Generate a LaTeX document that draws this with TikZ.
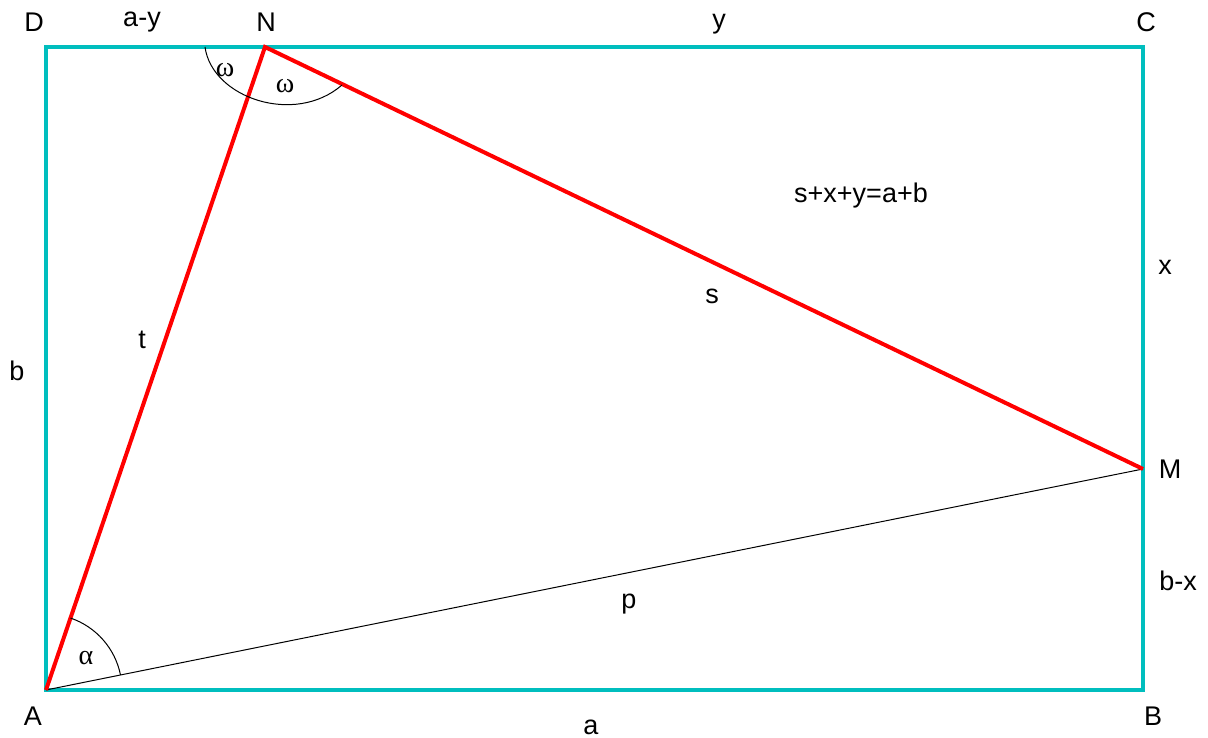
\documentclass[tikz,border=0pt]{standalone}
\usepackage{fontspec}
\usetikzlibrary{calc}
\setmainfont{Liberation Sans}
\newfontfamily\grk{Liberation Serif}
\definecolor{rectcyan}{RGB}{0,190,190}
\tikzset{
  lbl/.style={font=\fontsize{27}{30}\selectfont, inner sep=0pt},
  glbl/.style={font=\grk\fontsize{28}{30}\selectfont, inner sep=0pt},
  side/.style={draw=rectcyan, line width=4pt},
  redline/.style={draw=red, line width=4pt},
  thin/.style={draw=black, line width=1pt}
}
\begin{document}
\begin{tikzpicture}[x=1pt,y=1pt]
\useasboundingbox (0,0) rectangle (1208,738);
\coordinate (A) at (46,48);
\coordinate (B) at (1143,48);
\coordinate (C) at (1143,691);
\coordinate (D) at (46,691);
\coordinate (N) at (265,691);
\coordinate (M) at (1143,269);
\draw[side, line join=miter] (A) -- (B) -- (C) -- (D) -- cycle;
\draw[thin] (A) -- (M);
\draw[redline, line join=miter] (A) -- (N) -- (M);
% angle arcs
\draw[thin] ($(A)+(71.2:76)$) arc[start angle=71.2, end angle=11.4, radius=76];
\draw[thin] (205,691) .. controls (212,640) and (295,612) .. (342,653);
% labels
\node[lbl] (lD) at (34,716) {D};
\node[lbl] (lay) at (142,716) {a-y};
\node[lbl] (lN) at (266,716) {N};
\node[lbl] (ly) at (719,714) {y};
\node[lbl] (lC) at (1146,716) {C};
\node[lbl] (lb) at (17,367) {b};
\node[lbl] (lt) at (142,398) {t};
\node[lbl] (ls) at (712,442) {s};
\node[lbl] (leq) at (861,542) {s+x+y=a+b};
\node[lbl] (lx) at (1165,471) {x};
\node[lbl] (lM) at (1170,269) {M};
\node[lbl] (lbx) at (1178,157) {b-x};
\node[lbl] (lp) at (629,134) {p};
\node[lbl] (lA) at (33,22) {A};
\node[lbl] (la) at (591,11) {a};
\node[lbl] (lB) at (1153,22) {B};
\node[glbl] (lal) at (86,80) {α};
\node[glbl] (lw1) at (225,668) {ω};
\node[glbl] (lw2) at (285,652) {ω};
\end{tikzpicture}
\end{document}
